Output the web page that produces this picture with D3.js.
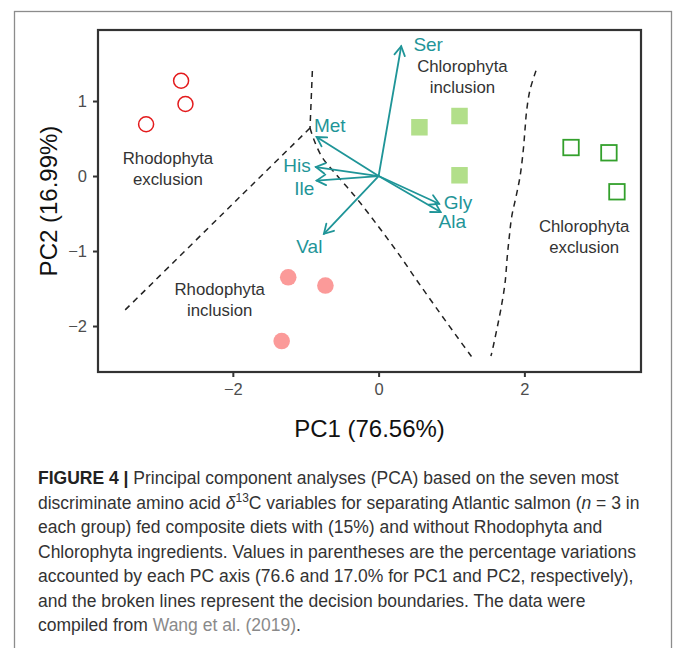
<!DOCTYPE html>
<html><head><meta charset="utf-8">
<script src="https://cdn.jsdelivr.net/npm/d3@7"></script>
<style>body{margin:0;background:#fff}svg{display:block}</style>
</head><body>
<svg id="c" width="673" height="648"></svg>
<script>
// ---- data ----
const rhodoExclusion = [[-2.71,1.27],[-2.65,0.96],[-3.19,0.69]];
const rhodoInclusion = [[-1.24,-1.35],[-0.73,-1.46],[-1.33,-2.20]];
const chloroInclusion = [[0.56,0.65],[1.11,0.80],[1.11,0.01]];
const chloroExclusion = [[2.64,0.38],[3.16,0.31],[3.27,-0.21]];

const loadingNames = ["Ser","Met","His","Ile","Gly","Ala","Val"];
const loadingPC1 = [0.31,-0.85,-0.86,-0.85,0.83,0.85,-0.75];
const loadingPC2 = [1.73,0.52,0.12,-0.06,-0.37,-0.48,-0.77];
const labelPC1 = [0.68,-0.67,-1.12,-1.02,1.09,1.01,-0.95];
const labelPC2 = [1.76,0.67,0.147,-0.16,-0.35,-0.61,-0.94];

const groupNames = ["Rhodophyta\nexclusion","Rhodophyta\ninclusion","Chlorophyta\ninclusion","Chlorophyta\nexclusion"];
const groupLabelPC1 = [-2.89,-2.18,1.15,2.82];
const groupLabelPC2 = [0.10,-1.65,1.32,-0.81];

const boundaryTop = [[-0.909,1.400],[-0.941,0.640]];
const boundaryLeft = [[-0.941,0.640],[-1.901,-0.276],[-3.502,-1.809]];
const boundaryMid = [[-0.941,0.640],[-0.886,0.480],[-0.776,0.253],[-0.612,0.053],[-0.433,-0.147],[-0.283,-0.320],[-0.008,-0.667],[0.266,-1.027],[0.540,-1.413],[0.842,-1.827],[1.089,-2.160],[1.274,-2.407]];
const boundaryRight = [[2.159,1.404],[2.077,1.147],[2.032,0.880],[2.008,0.613],[1.985,0.347],[1.940,-0.009],[1.885,-0.276],[1.826,-0.543],[1.793,-0.809],[1.765,-1.076],[1.734,-1.431],[1.675,-1.787],[1.620,-2.053],[1.551,-2.364],[1.540,-2.400]];

const xTicks = [-2,0,2];
const yTicks = [-2,-1,0,1];
const xTitle = "PC1 (76.56%)";
const yTitle = "PC2 (16.99%)";

const captionLines = [
  [{t:"FIGURE 4 | ",b:1},{t:"Principal component analyses (PCA) based on the seven most"}],
  [{t:"discriminate amino acid "},{t:"\u03B4",i:1},{t:"13",sup:1},{t:"C variables for separating Atlantic salmon ("},{t:"n",i:1},{t:" = 3 in"}],
  [{t:"each group) fed composite diets with (15%) and without Rhodophyta and"}],
  [{t:"Chlorophyta ingredients. Values in parentheses are the percentage variations"}],
  [{t:"accounted by each PC axis (76.6 and 17.0% for PC1 and PC2, respectively),"}],
  [{t:"and the broken lines represent the decision boundaries. The data were"}],
  [{t:"compiled from "},{t:"Wang et al. (2019)",link:1},{t:"."}]
];

// ---- drawing ----
const FONT = "'Liberation Sans', Arial, Helvetica, sans-serif";
const svg = d3.select("#c");
const M = {l:98, r:641, t:30, b:372};
const x = d3.scaleLinear().domain([-3.85,3.60]).range([M.l,M.r]);
const y = d3.scaleLinear().domain([-2.613,1.947]).range([M.b,M.t]);

// outer figure frame
svg.append("rect").attr("x",14.5).attr("y",11.5).attr("width",657).attr("height",700)
  .attr("fill","none").attr("stroke","#8c8c8c").attr("stroke-width",1.3);

// axes
const xAxis = svg.append("g").attr("transform",`translate(0,${M.b})`)
  .call(d3.axisBottom(x).tickValues(xTicks).tickSize(5).tickPadding(6).tickFormat(d3.format("d")));
const yAxis = svg.append("g").attr("transform",`translate(${M.l},0)`)
  .call(d3.axisLeft(y).tickValues(yTicks).tickSize(5).tickPadding(6).tickFormat(d3.format("d")));
[xAxis,yAxis].forEach(g=>{
  g.select(".domain").remove();
  g.selectAll(".tick line").attr("stroke","#333").attr("stroke-width",2);
  g.selectAll(".tick text").attr("fill","#4d4d4d").style("font-family",FONT).style("font-size","16.5px");
});

const line = d3.line().x(d=>x(d[0])).y(d=>y(d[1])).curve(d3.curveCatmullRom);
const bl = svg.append("g").attr("fill","none").attr("stroke","#222").attr("stroke-width",1.5).attr("stroke-dasharray","6,5");
[boundaryTop,boundaryLeft,boundaryMid,boundaryRight].forEach(b=>{
  bl.append("path").attr("d", line(b));
});

// points
svg.append("g").selectAll("circle").data(rhodoExclusion).join("circle")
  .attr("cx",d=>x(d[0])).attr("cy",d=>y(d[1])).attr("r",7.5)
  .attr("fill","none").attr("stroke","#E31A1C").attr("stroke-width",1.5);
svg.append("g").selectAll("circle").data(rhodoInclusion).join("circle")
  .attr("cx",d=>x(d[0])).attr("cy",d=>y(d[1])).attr("r",8.3)
  .attr("fill","#FB9A99");
const sq = 16.5;
svg.append("g").selectAll("rect").data(chloroInclusion).join("rect")
  .attr("x",d=>x(d[0])-sq/2).attr("y",d=>y(d[1])-sq/2).attr("width",sq).attr("height",sq)
  .attr("fill","#B2DF8A");
const sq2 = 15.5;
svg.append("g").selectAll("rect").data(chloroExclusion).join("rect")
  .attr("x",d=>x(d[0])-sq2/2).attr("y",d=>y(d[1])-sq2/2).attr("width",sq2).attr("height",sq2)
  .attr("fill","none").attr("stroke","#33A02C").attr("stroke-width",1.8);

// loadings arrows
const TEAL = "#1f9598";
const ag = svg.append("g").attr("stroke",TEAL).attr("stroke-width",1.8).attr("fill","none").attr("stroke-linecap","round");
loadingNames.forEach((n,i)=>{
  const x0=x(0), y0=y(0), x1=x(loadingPC1[i]), y1=y(loadingPC2[i]);
  ag.append("line").attr("x1",x0).attr("y1",y0).attr("x2",x1).attr("y2",y1);
  const a = Math.atan2(y1-y0,x1-x0), L=10.5, h=Math.PI/6;
  const p = [[x1-L*Math.cos(a-h), y1-L*Math.sin(a-h)],[x1,y1],[x1-L*Math.cos(a+h), y1-L*Math.sin(a+h)]];
  ag.append("path").attr("d", d3.line()(p)).attr("stroke-linejoin","miter");
});
svg.append("g").selectAll("text").data(loadingNames).join("text")
  .attr("x",(d,i)=>x(labelPC1[i])).attr("y",(d,i)=>y(labelPC2[i]))
  .attr("text-anchor","middle").attr("dominant-baseline","central")
  .attr("fill",TEAL).style("font-family",FONT).style("font-size","19px").text(d=>d);

// group labels
const gl = svg.append("g").attr("fill","#333").style("font-family",FONT).style("font-size","16.8px").attr("text-anchor","middle");
groupNames.forEach((n,i)=>{
  const parts = n.split("\n");
  parts.forEach((p,j)=>{
    gl.append("text").attr("x",x(groupLabelPC1[i])).attr("y",y(groupLabelPC2[i]) + (j-0.5)*21)
      .attr("dominant-baseline","central").text(p);
  });
});

// panel border
svg.append("rect").attr("x",M.l).attr("y",M.t).attr("width",M.r-M.l).attr("height",M.b-M.t)
  .attr("fill","none").attr("stroke","#333").attr("stroke-width",2.2);

// axis titles
svg.append("text").attr("x",(M.l+M.r)/2).attr("y",428).attr("text-anchor","middle").attr("dominant-baseline","central")
  .style("font-family",FONT).style("font-size","24px").attr("fill","#111").text(xTitle);
svg.append("text").attr("transform",`translate(48,${(M.t+M.b)/2}) rotate(-90)`).attr("text-anchor","middle").attr("dominant-baseline","central")
  .style("font-family",FONT).style("font-size","24px").attr("fill","#111").text(yTitle);

// caption
captionLines.forEach((segs,i)=>{
  const t = svg.append("text").attr("x",38).attr("y",484 + i*24.5)
    .style("font-family",FONT).style("font-size","17.5px").attr("fill","#333");
  let shifted = false;
  segs.forEach(s=>{
    const ts = t.append("tspan").text(s.t);
    if (s.b) ts.attr("font-weight","bold").attr("fill","#222");
    if (s.i) ts.attr("font-style","italic");
    if (s.link) ts.attr("fill","#8a8a8a");
    if (s.sup) { ts.attr("dy",-7).style("font-size","12px"); shifted = true; }
    else if (shifted) { ts.attr("dy",7); shifted = false; }
  });
});
</script>
</body></html>
